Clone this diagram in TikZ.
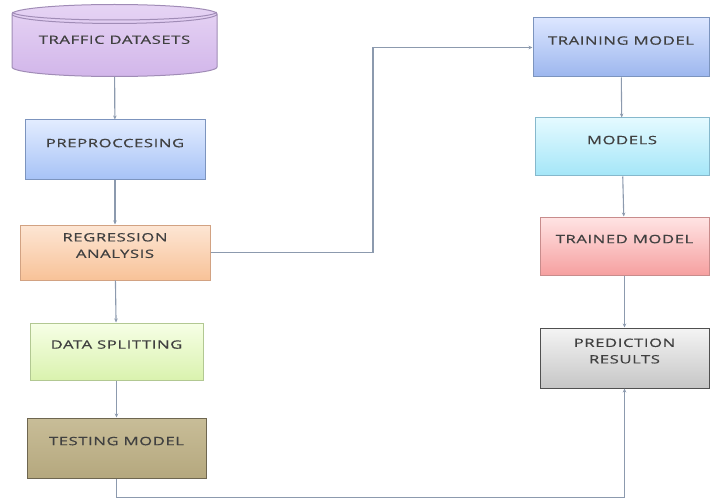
\documentclass[tikz,border=0pt]{standalone}
\usepackage{fontspec}
\setmainfont[FakeStretch=1.45,LetterSpace=5,FakeBold=0.5]{Open Sans}
\usetikzlibrary{shapes.geometric, arrows.meta}

\definecolor{txt}{HTML}{404040}
\definecolor{linkc}{HTML}{8C9AAE}
\definecolor{dbtop}{HTML}{E6D4F4}\definecolor{dbbot}{HTML}{D2B6EA}\definecolor{dbline}{HTML}{A08CB6}
\definecolor{pretop}{HTML}{E2ECFF}\definecolor{prebot}{HTML}{A6C2F6}\definecolor{preline}{HTML}{7C94BE}
\definecolor{regtop}{HTML}{FDE6D4}\definecolor{regbot}{HTML}{F8C298}\definecolor{regline}{HTML}{D2A282}
\definecolor{spltop}{HTML}{F6FFE6}\definecolor{splbot}{HTML}{DAF2AE}\definecolor{splline}{HTML}{B2C892}
\definecolor{tsttop}{HTML}{C8BD98}\definecolor{tstbot}{HTML}{B5A87E}\definecolor{tstline}{HTML}{6E6650}
\definecolor{trntop}{HTML}{DCE6FF}\definecolor{trnbot}{HTML}{9CB6EE}\definecolor{trnline}{HTML}{7C94BE}
\definecolor{modtop}{HTML}{E4FAFF}\definecolor{modbot}{HTML}{A4E6F8}\definecolor{modline}{HTML}{86B8CC}
\definecolor{tdtop}{HTML}{FFE4E4}\definecolor{tdbot}{HTML}{F6A0A0}\definecolor{tdline}{HTML}{C88C8C}
\definecolor{prdtop}{HTML}{F4F4F4}\definecolor{prdbot}{HTML}{C6C6C6}\definecolor{prdline}{HTML}{505050}

\begin{document}
\begin{tikzpicture}[x=1pt, y=-1pt,
    stage/.style={rectangle, line width=1pt, minimum height=58pt, text depth=14pt,
        align=center, text=txt, font=\fontsize{11.5}{16.5}\selectfont},
    link/.style={draw=linkc, line width=1.1pt, -{Stealth[length=4pt, width=3.5pt]}}]
    \useasboundingbox (0,0) rectangle (710,500);

    % left column
    \node[cylinder, shape border rotate=90, aspect=0.12, minimum width=205pt, minimum height=72pt,
        anchor=shape center, line width=1pt, top color=dbtop, bottom color=dbbot, draw=dbline,
        text=txt, text depth=14pt, font=\fontsize{11.5}{16.5}\selectfont] (data) at (114.5,40.5) {TRAFFIC DATASETS};
    \draw[dbline, line width=1pt] (data.north) ++(-102,8) arc[start angle=180, end angle=0, x radius=102, y radius=8];
    \node[stage, minimum width=180pt, minimum height=60pt, top color=pretop, bottom color=prebot, draw=preline]
        (pre) at (115,150) {PREPROCCESING};
    \node[stage, minimum width=190pt, minimum height=55pt, top color=regtop, bottom color=regbot, draw=regline]
        (reg) at (115,252.5) {REGRESSION\\ANALYSIS};
    \node[stage, minimum width=173pt, minimum height=57pt, top color=spltop, bottom color=splbot, draw=splline]
        (split) at (116.5,351.5) {DATA SPLITTING};
    \node[stage, minimum width=179pt, minimum height=60pt, top color=tsttop, bottom color=tstbot, draw=tstline]
        (test) at (116.5,448) {TESTING MODEL};

    % right column
    \node[stage, minimum width=176pt, minimum height=59pt, top color=trntop, bottom color=trnbot, draw=trnline]
        (train) at (621,47.5) {TRAINING MODEL};
    \node[stage, minimum width=174pt, minimum height=58pt, top color=modtop, bottom color=modbot, draw=modline]
        (models) at (622,147) {MODELS};
    \node[stage, minimum width=169pt, minimum height=58pt, top color=tdtop, bottom color=tdbot, draw=tdline]
        (trained) at (624.5,246) {TRAINED MODEL};
    \node[stage, minimum width=169pt, minimum height=60pt, top color=prdtop, bottom color=prdbot, draw=prdline]
        (pred) at (624.5,358) {PREDICTION\\RESULTS};

    \coordinate (up) at (373,47.5);

    \draw[link] (data) -- (pre);
    \draw[link] (pre) -- (reg);
    \draw[link] (reg) -- (split);
    \draw[link] (split) -- (test);
    \draw[link] (reg.east) -| (up) -- (train.west);
    \draw[link] (train) -- (models);
    \draw[link] (models) -- (trained);
    \draw[link] (trained) -- (pred);
    \draw[link] (test.south) -- ++(0,19) -| (pred.south);
\end{tikzpicture}
\end{document}
